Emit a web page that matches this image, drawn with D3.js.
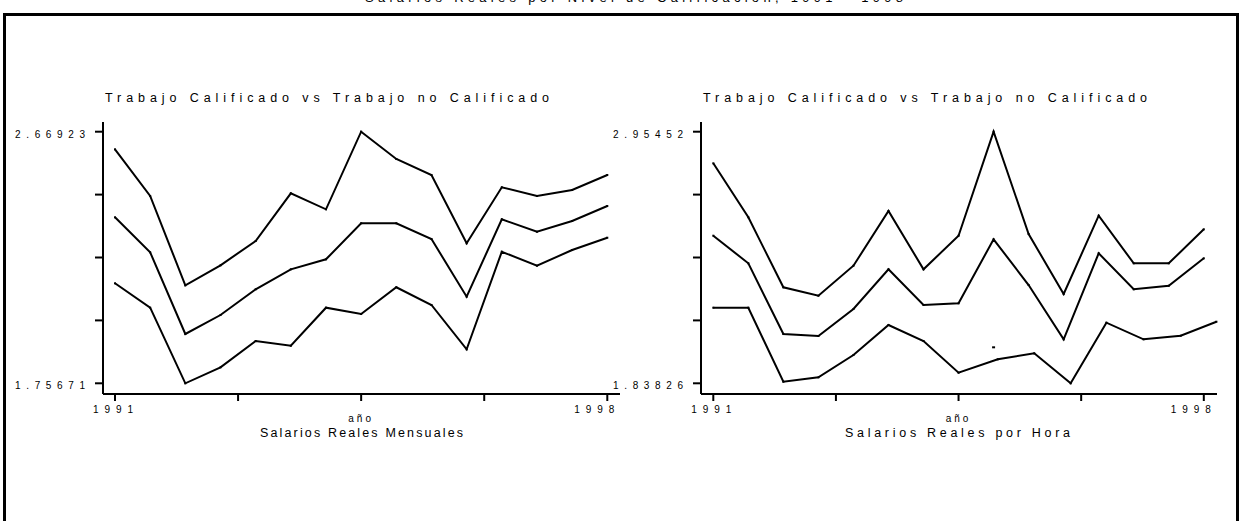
<!DOCTYPE html>
<html>
<head>
<meta charset="utf-8">
<script src="https://cdn.jsdelivr.net/npm/d3@7"></script>
<style>
  html, body { margin: 0; padding: 0; background: #fff; }
  svg { display: block; font-family: "Liberation Sans", Arial, sans-serif; }
</style>
</head>
<body>
<svg id="chart" width="1241" height="521"></svg>
<script>
// Semiannual observations, 1991 to 1998
const years = [1991, 1991.5, 1992, 1992.5, 1993, 1993.5, 1994, 1994.5,
               1995, 1995.5, 1996, 1996.5, 1997, 1997.5, 1998];

// Salarios reales mensuales (log)
const mensualAlto  = [2.6054, 2.4360, 2.1121, 2.1847, 2.2728, 2.4458, 2.3878, 2.6692,
                      2.5702, 2.5122, 2.2644, 2.4676, 2.4360, 2.4578, 2.5122];
const mensualMedio = [2.3588, 2.2318, 1.9355, 2.0044, 2.0976, 2.1701, 2.2064, 2.3370,
                      2.3370, 2.2800, 2.0708, 2.3515, 2.3065, 2.3453, 2.3997];
const mensualBajo  = [2.1194, 2.0309, 1.7567, 1.8147, 1.9101, 1.8930, 2.0309, 2.0080,
                      2.1049, 2.0407, 1.8800, 2.2340, 2.1832, 2.2401, 2.2847];

// Salarios reales por hora (log)
const horaAlto  = [2.8143, 2.5747, 2.2641, 2.2269, 2.3600, 2.6027, 2.3440, 2.4931,
                   2.9545, 2.5006, 2.2344, 2.5818, 2.3706, 2.3706, 2.5215];
const horaMedio = [2.4931, 2.3706, 2.0569, 2.0481, 2.1679, 2.3440, 2.1856, 2.1932,
                   2.4771, 2.2743, 2.0334, 2.4150, 2.2553, 2.2712, 2.3928];
const horaBajo  = [2.1736, 2.1736, 1.8453, 1.8648, 1.9638, 2.0969, 2.0259, 1.8852,
                   1.9447, 1.9713, 1.8383, 2.1071, 2.0334, 2.0494, 2.1115];
const horaBajoYears = [1991, 1991.5, 1992, 1992.5, 1993, 1993.5, 1994, 1994.5,
                       1995.06, 1995.58, 1996.10, 1996.61, 1997.14, 1997.67, 1998.18];
// isolated observation
const horaSuelto = [{ x: 1995, y: 1.9979 }];

// Axis extents and labels
const rangoMensual = [1.75671, 2.66923];
const rangoHora    = [1.83826, 2.95452];
const etiquetaMensual = ["1.75671", "2.66923"];
const etiquetaHora    = ["1.83826", "2.95452"];
const xTicks = [1991, 1992.75, 1994.5, 1996.25, 1998];

const titulo = "Trabajo Calificado vs Trabajo no Calificado";

const svg = d3.select("#chart");

// Outer frame
svg.append("rect")
  .attr("x", 4.5).attr("y", 14.5)
  .attr("width", 1233).attr("height", 520)
  .attr("fill", "none").attr("stroke", "#000").attr("stroke-width", 3);

// Heading above the frame, running off the top edge
svg.append("text")
  .attr("x", 365).attr("y", 1.5)
  .attr("textLength", 538).attr("lengthAdjust", "spacing")
  .attr("font-size", 13).attr("fill", "#000")
  .text("Salarios Reales por Nivel de Calificación, 1991 - 1998");

function panel(opts) {
  const { left, right, top, bottom, xr, domain, labels, series, extra,
          titleX, titleW, sub, subX, subW, tl } = opts;
  const g = svg.append("g");
  const x = d3.scaleLinear().domain([1991, 1998]).range(xr);
  const y = d3.scaleLinear().domain(domain).range([383.3, 131.7]);

  // Axes lines
  g.append("line").attr("x1", left).attr("x2", left).attr("y1", top).attr("y2", bottom)
    .attr("stroke", "#000").attr("stroke-width", 2);
  g.append("line").attr("x1", left).attr("x2", right).attr("y1", bottom).attr("y2", bottom)
    .attr("stroke", "#000").attr("stroke-width", 2);

  // Y ticks: five evenly spaced
  const yt = d3.range(5).map(i => domain[0] + i * (domain[1] - domain[0]) / 4);
  g.selectAll(".yt").data(yt).join("line")
    .attr("x1", left - 8).attr("x2", left)
    .attr("y1", d => y(d)).attr("y2", d => y(d))
    .attr("stroke", "#000").attr("stroke-width", 2);
  g.append("text").attr("x", tl).attr("y", y(domain[0]) + 6)
    .attr("textLength", 70).attr("lengthAdjust", "spacing")
    .attr("font-size", 10).text(labels[0]);
  g.append("text").attr("x", tl).attr("y", y(domain[1]) + 6)
    .attr("textLength", 70).attr("lengthAdjust", "spacing")
    .attr("font-size", 10).text(labels[1]);

  // X ticks
  g.selectAll(".xt").data(xTicks).join("line")
    .attr("x1", d => x(d)).attr("x2", d => x(d))
    .attr("y1", bottom).attr("y2", bottom + 7)
    .attr("stroke", "#000").attr("stroke-width", 2);
  g.append("text").attr("x", x(1991) - 22).attr("y", 412.5)
    .attr("textLength", 40).attr("lengthAdjust", "spacing")
    .attr("font-size", 10).text("1991");
  g.append("text").attr("x", x(1998) - 33).attr("y", 412.5)
    .attr("textLength", 40).attr("lengthAdjust", "spacing")
    .attr("font-size", 10).text("1998");

  // Axis title and captions
  g.append("text").attr("x", x(1994.5)).attr("y", 422)
    .attr("text-anchor", "middle").attr("font-size", 10)
    .attr("letter-spacing", 3).text("año");
  g.append("text").attr("x", subX).attr("y", 437)
    .attr("textLength", subW).attr("lengthAdjust", "spacing")
    .attr("font-size", 12.5).text(sub);
  g.append("text").attr("x", titleX).attr("y", 101.5)
    .attr("textLength", titleW).attr("lengthAdjust", "spacing")
    .attr("font-size", 12.5).text(titulo);

  const line = d3.line().x(d => x(d[0])).y(d => y(d[1]));
  series.forEach(s => {
    const pts = s.vals.map((v, i) => [s.xs[i], v]);
    g.append("path").attr("d", line(pts))
      .attr("fill", "none").attr("stroke", "#000")
      .attr("stroke-width", 2).attr("stroke-linejoin", "miter");
    g.selectAll(null).data(pts).join("rect")
      .attr("x", d => x(d[0]) - 1).attr("y", d => y(d[1]) - 1)
      .attr("width", 2).attr("height", 2).attr("fill", "#000");
  });
  (extra || []).forEach(p => {
    g.append("rect").attr("x", x(p.x) - 1.5).attr("y", y(p.y) - 1)
      .attr("width", 3).attr("height", 2).attr("fill", "#000");
  });
}

panel({
  left: 103, right: 620, top: 122, bottom: 394, xr: [115, 607.3],
  domain: rangoMensual, labels: etiquetaMensual, tl: 15,
  series: [
    { xs: years, vals: mensualAlto },
    { xs: years, vals: mensualMedio },
    { xs: years, vals: mensualBajo }
  ],
  titleX: 105, titleW: 444,
  sub: "Salarios Reales Mensuales", subX: 260, subW: 203
});

panel({
  left: 701, right: 1217, top: 122, bottom: 394, xr: [713.3, 1203.8],
  domain: rangoHora, labels: etiquetaHora, tl: 613,
  series: [
    { xs: years, vals: horaAlto },
    { xs: years, vals: horaMedio },
    { xs: horaBajoYears, vals: horaBajo }
  ],
  extra: horaSuelto,
  titleX: 703, titleW: 444,
  sub: "Salarios Reales por Hora", subX: 845, subW: 225
});
</script>
</body>
</html>
